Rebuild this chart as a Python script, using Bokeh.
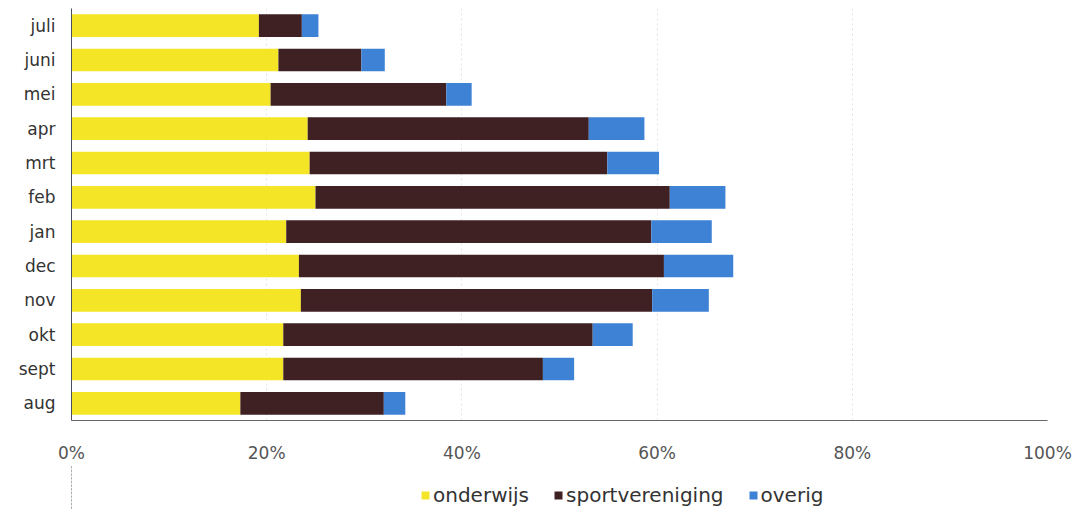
from bokeh.plotting import figure
from bokeh.layouts import column
from bokeh.models import Range1d, FactorRange, ColumnDataSource, FixedTicker, PrintfTickFormatter, Legend, LegendItem
from bokeh.embed import file_html
from bokeh.resources import INLINE

months = ["aug", "sept", "okt", "nov", "dec", "jan", "feb", "mrt", "apr", "mei", "juni", "juli"]
onderwijs = [17.3, 21.7, 21.7, 23.5, 23.3, 22.0, 25.0, 24.4, 24.2, 20.4, 21.2, 19.2]
sportvereniging = [14.7, 26.6, 31.7, 36.0, 37.4, 37.4, 36.3, 30.5, 28.8, 18.0, 8.5, 4.4]
overig = [2.2, 3.2, 4.1, 5.8, 7.1, 6.2, 5.7, 5.3, 5.7, 2.6, 2.4, 1.7]
series = ["onderwijs", "sportvereniging", "overig"]
colors = ["#f4e626", "#3f2124", "#3d82d4"]
x_ticks = [0, 20, 40, 60, 80, 100]

source = ColumnDataSource(dict(month=months, onderwijs=onderwijs,
                               sportvereniging=sportvereniging, overig=overig))

p = figure(y_range=FactorRange(factors=months, range_padding=0), x_range=Range1d(0, 100),
           frame_width=976, frame_height=412, output_backend="svg", toolbar_location=None,
           min_border_left=71, min_border_right=32, min_border_top=8, min_border_bottom=0)
p.outline_line_color = None

renderers = p.hbar_stack(series, y="month", height=0.66, color=colors, line_color=None, source=source)

p.xaxis.ticker = FixedTicker(ticks=x_ticks)
p.xaxis.formatter = PrintfTickFormatter(format="%d%%")
p.xaxis.major_label_text_font = "DejaVu Sans"
p.xaxis.major_label_text_font_size = "17px"
p.xaxis.major_label_text_color = "#555555"
p.xaxis.major_label_standoff = 22
p.xaxis.major_tick_out = 0
p.xaxis.major_tick_in = 0
p.xaxis.major_tick_line_color = None
p.xaxis.minor_tick_line_color = None
p.xaxis.axis_line_color = "#666666"

p.yaxis.major_label_text_font = "DejaVu Sans"
p.yaxis.major_label_text_font_size = "17px"
p.yaxis.major_label_text_color = "#333333"
p.yaxis.major_label_standoff = 16
p.yaxis.major_tick_out = 0
p.yaxis.major_tick_in = 0
p.yaxis.major_tick_line_color = None
p.yaxis.axis_line_color = "#4a5060"

p.ygrid.grid_line_color = None
p.xgrid.grid_line_color = "#e4e4e4"
p.xgrid.grid_line_dash = "2 3"

# legend strip below the chart (its bars lie outside its visible range; only the legend shows)
lg = figure(width=1079, height=44, x_range=Range1d(1000, 1001),
            y_range=FactorRange(factors=months, range_padding=0),
            output_backend="svg", toolbar_location=None, min_border=0)
lg.axis.visible = False
lg.grid.visible = False
lg.outline_line_color = None
swatches = lg.hbar_stack(series, y="month", height=0.66, color=colors, line_color=None, source=source)
legend = Legend(items=[LegendItem(label=s, renderers=[r]) for s, r in zip(series, swatches)],
                orientation="horizontal", location=(349, 2))
legend.label_text_font = "DejaVu Sans"
legend.label_text_font_size = "20px"
legend.label_text_color = "#333333"
legend.label_height = 22
legend.glyph_width = 10
legend.glyph_height = 10
legend.spacing = 24
legend.label_standoff = 3
legend.border_line_color = None
legend.background_fill_alpha = 0
legend.padding = 0
legend.margin = 0
lg.add_layout(legend, "center")

layout = column(p, lg, spacing=0)
open("out.html", "w").write(file_html(layout, INLINE))
